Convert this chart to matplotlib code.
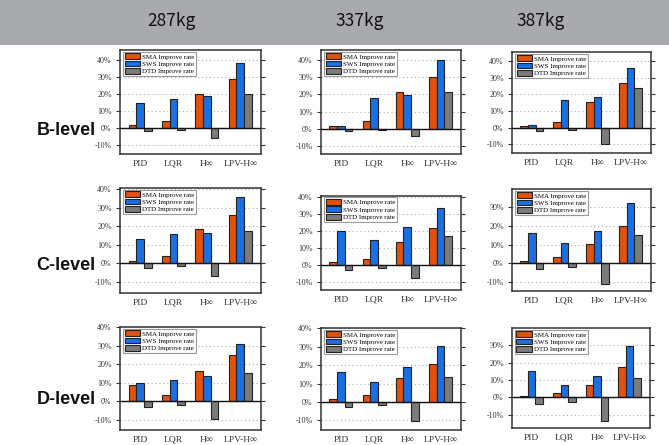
import matplotlib
matplotlib.use("Agg")
import matplotlib.pyplot as plt
from matplotlib.patches import Rectangle
from matplotlib.ticker import FuncFormatter, MultipleLocator
import numpy as np

# ---------------- data ----------------
masses = ["287kg", "337kg", "387kg"]
levels = ["B-level", "C-level", "D-level"]
controllers = ["PID", "LQR", "H∞", "LPV-H∞"]
series_names = ["SMA Improve rate", "SWS Improve rate", "DTD Improve rate"]

# rates in %, indexed [level][mass][controller]
sma_rates = [
    [[1.8, 4.1, 20.0, 29.0], [1.6, 4.5, 21.5, 30.0], [1.2, 3.6, 15.2, 26.8]],
    [[1.3, 3.8, 18.3, 26.2], [1.6, 3.5, 13.3, 22.0], [1.1, 3.2, 10.2, 19.9]],
    [[9.0, 3.3, 16.2, 25.0], [1.4, 3.7, 13.1, 20.7], [0.6, 2.3, 7.2, 17.2]],
]
sws_rates = [
    [[14.5, 17.3, 18.6, 38.6], [1.4, 18.1, 19.7, 40.0], [1.6, 16.8, 18.4, 36.0]],
    [[13.3, 16.0, 16.3, 35.9], [20.3, 14.8, 22.2, 33.4], [16.3, 11.0, 17.6, 32.5]],
    [[10.0, 11.3, 13.6, 30.8], [16.3, 10.8, 18.8, 30.6], [15.3, 7.4, 12.3, 29.6]],
]
dtd_rates = [
    [[-1.8, -1.0, -5.7, 20.0], [-1.4, -1.0, -4.1, 21.5], [-2.2, -1.2, -9.6, 23.8]],
    [[-2.7, -1.4, -7.0, 17.2], [-2.9, -1.4, -7.8, 17.0], [-3.2, -1.8, -11.0, 15.3]],
    [[-3.3, -1.8, -9.3, 15.3], [-3.0, -1.6, -10.1, 13.3], [-4.0, -2.5, -13.4, 11.3]],
]

# ---------------- layout ----------------
W, H = 669, 445
fig = plt.figure(figsize=(W / 100, H / 100), dpi=100)
fig.patch.set_facecolor("white")

# header band
band_h = 45
fig.patches.append(Rectangle((0, 1 - band_h / H), 1, band_h / H,
                             transform=fig.transFigure, facecolor="#a9aaae",
                             edgecolor="none", zorder=0))
title_x = [172, 360, 541]
for m, xx in zip(masses, title_x):
    fig.text(xx / W, 1 - 21 / H, m, ha="center", va="center", fontsize=12.5,
             family=["Noto Sans CJK JP", "DejaVu Sans"], color="#111111")

row_label_y = [131, 266, 400]
for lv, yy in zip(levels, row_label_y):
    fig.text(66 / W, 1 - yy / H, lv, ha="center", va="center", fontsize=13,
             fontweight="bold", family=["Liberation Sans", "DejaVu Sans"],
             color="#111111")

# axes boxes in pixels: (left, right, top, bottom)
boxes = [
    [(120, 261, 50, 154), (321, 461, 50, 154), (512, 651, 52, 153)],
    [(120, 261, 188, 293), (321, 461, 196, 290), (512, 651, 189, 291)],
    [(120, 261, 327, 430), (321, 461, 328, 430), (512, 650, 328, 428)],
]
ylims = [
    [(-15.3, 46), (-14.8, 46), (-15.3, 45.4)],
    [(-16, 40.5), (-14.6, 40.6), (-14.9, 39.9)],
    [(-15.5, 40.1), (-15.2, 40.1), (-17.5, 39.8)],
]

colors = ["#e0520e", "#1a6fe3", "#7b7b7b"]
serif = ["Liberation Serif", "DejaVu Serif"]
bw = 0.23
x = np.arange(len(controllers))

for r in range(3):
    for c in range(3):
        l, rr, t, b = boxes[r][c]
        ax = fig.add_axes([l / W, 1 - b / H, (rr - l) / W, (b - t) / H])
        vals = [sma_rates[r][c], sws_rates[r][c], dtd_rates[r][c]]
        for k in range(3):
            ax.bar(x + (k - 1) * bw, vals[k], width=bw, color=colors[k],
                   edgecolor="#222222", linewidth=0.8, label=series_names[k],
                   zorder=3)
        ax.axhline(0, color="#111111", linewidth=1.0, zorder=4)
        ax.set_xlim(-0.6, 3.62)
        ax.set_ylim(*ylims[r][c])
        ax.yaxis.set_major_locator(MultipleLocator(10))
        ax.yaxis.set_major_formatter(FuncFormatter(lambda v, p: f"{v:.0f}%"))
        ax.yaxis.grid(True, linestyle=(0, (1, 2.5)), color="#aaaaaa",
                      linewidth=0.8, zorder=1)
        ax.set_xticks(x)
        ax.set_xticklabels([])
        ax.tick_params(axis="x", length=0)
        for i, name in enumerate(controllers):
            ax.annotate(name, xy=(i, 0), xycoords=ax.get_xaxis_transform(),
                        xytext=(0, -8.5), textcoords="offset points",
                        ha="center", va="baseline", fontsize=6.8,
                        family=serif, color="#333333")
        ax.tick_params(axis="y", direction="out", length=3, width=0.8,
                       right=True, labelsize=5.8, colors="#333333",
                       labelcolor="#333333", pad=3)
        for lab in ax.get_yticklabels():
            lab.set_family(serif)
        for sp in ax.spines.values():
            sp.set_color("#333333")
            sp.set_linewidth(1.1)
        leg = ax.legend(loc="upper left", bbox_to_anchor=(0.02, 0.985),
                        prop={"family": serif, "size": 5},
                        frameon=True, fancybox=False, framealpha=1,
                        edgecolor="#999999", borderpad=0.25,
                        labelspacing=0.15, handlelength=2.2, handleheight=0.9,
                        handletextpad=0.3, borderaxespad=0.0)
        leg.get_frame().set_linewidth(0.8)

fig.savefig("out.png", dpi=100, facecolor="white")
